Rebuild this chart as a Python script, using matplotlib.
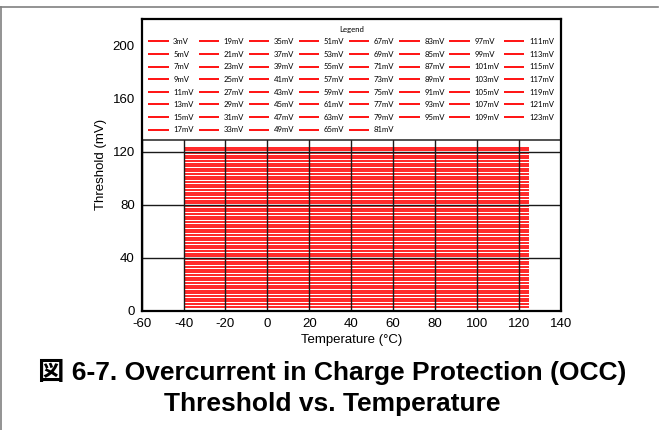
import matplotlib
matplotlib.use("Agg")
import matplotlib.pyplot as plt
from matplotlib.lines import Line2D

plt.rcParams['font.family'] = ['Liberation Sans', 'Noto Sans CJK JP', 'DejaVu Sans']
plt.rcParams['axes.unicode_minus'] = False

# OCC threshold settings (mV), each flat over the temperature range
thresholds = list(range(3, 124, 2))
temp_range = [-40, 125]
labels = [f"{t}mV" for t in thresholds]

x_ticks = list(range(-60, 141, 20))
y_ticks = [0, 40, 80, 120, 160, 200]

fig = plt.figure(figsize=(6.64, 4.30), dpi=100)
ax = fig.add_axes([0.2134, 0.2774, 0.631, 0.6784])

for t, lab in zip(thresholds, labels):
    ax.plot(temp_range, [t, t], color='#ff0000', lw=1.2, label=lab,
            solid_capstyle='butt')

ax.set_xlim(-60, 140)
ax.set_ylim(0, 220)
ax.set_xticks(x_ticks)
ax.set_yticks(y_ticks)
ax.set_axisbelow(False)
ax.grid(True, color='#1a1a1a', lw=1.0)
ax.tick_params(length=0, labelsize=9.5, pad=5)
for s in ax.spines.values():
    s.set_linewidth(1.6)
    s.set_color('black')
    s.set_zorder(6)

ax.set_xlabel('Temperature (°C)', fontsize=9.5, labelpad=3)
ax.set_ylabel('Threshold (mV)', fontsize=9.5, labelpad=4)

leg = ax.legend(loc='upper left', bbox_to_anchor=(0, 0, 1, 1), mode='expand',
                ncol=8, borderaxespad=0, fancybox=False, framealpha=1,
                edgecolor='#222222', title='Legend',
                prop={'family': 'Lato', 'size': 5.6},
                handlelength=2.6, handletextpad=0.6, labelspacing=0.72,
                borderpad=0.85)
leg.get_title().set_fontfamily('Lato')
leg.get_title().set_fontsize(5.6)
leg.get_frame().set_linewidth(1.1)
leg.set_zorder(5)
for h in leg.get_lines():
    h.set_linewidth(1.3)

fig.text(0.5, 1 - 380 / 430, '図 6-7. Overcurrent in Charge Protection (OCC)',
         ha='center', va='baseline', fontsize=19, fontweight='bold')
fig.text(0.5, 1 - 411.5 / 430, 'Threshold vs. Temperature',
         ha='center', va='baseline', fontsize=19, fontweight='bold')

# page frame
fig.add_artist(Line2D([0, 658 / 664], [1 - 7 / 430, 1 - 7 / 430],
                      color='#808080', lw=1.2, transform=fig.transFigure))
fig.add_artist(Line2D([1 / 664, 1 / 664], [0, 1 - 7 / 430],
                      color='#808080', lw=1.2, transform=fig.transFigure))

fig.savefig('out.png', dpi=100)
